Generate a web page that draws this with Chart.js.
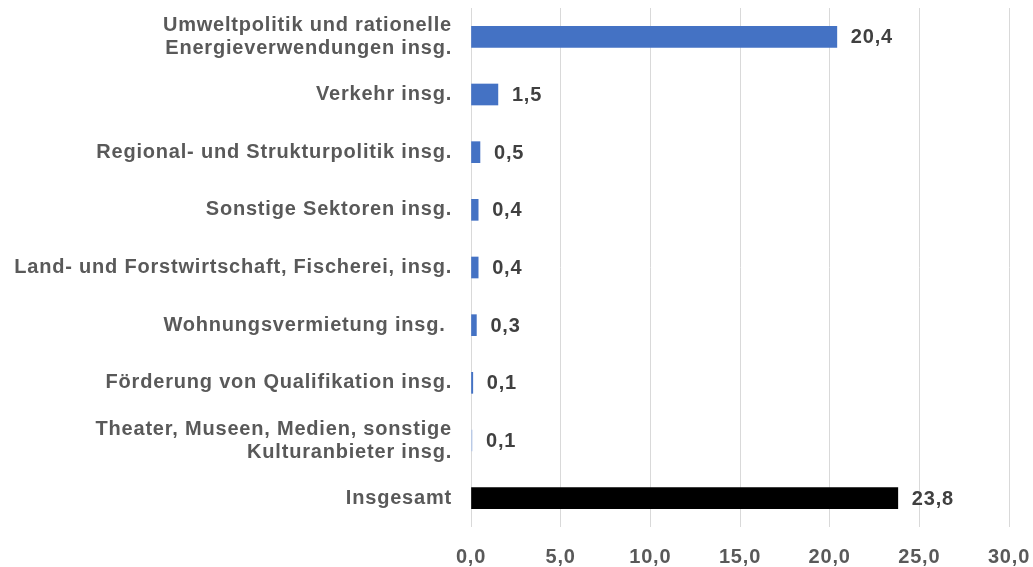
<!DOCTYPE html>
<html>
<head>
<meta charset="utf-8">
<script src="https://cdn.jsdelivr.net/npm/chart.js@4/dist/chart.umd.min.js"></script>
<style>
  html, body { margin: 0; padding: 0; background: #fff; }
  #wrap { width: 1033px; height: 567px; }
</style>
</head>
<body>
<div id="wrap"><canvas id="chart" width="1033" height="567"></canvas></div>
<script>
const categories = [
    ['Umweltpolitik und rationelle', 'Energieverwendungen insg.'],
    'Verkehr insg.',
    'Regional- und Strukturpolitik insg.',
    'Sonstige Sektoren insg.',
    'Land- und Forstwirtschaft, Fischerei, insg.',
    'Wohnungsvermietung insg. ',
    'Förderung von Qualifikation insg.',
    ['Theater, Museen, Medien, sonstige', 'Kulturanbieter insg.'],
    'Insgesamt'
];
const values = [20.4, 1.5, 0.5, 0.4, 0.4, 0.3, 0.1, 0.06, 23.8];
const barColors = ['#4472c4', '#4472c4', '#4472c4', '#4472c4', '#4472c4', '#4472c4', '#4472c4', '#b4c7e7', '#000000'];
const xTicks = [0, 5, 10, 15, 20, 25, 30];

const FONT = '"Liberation Sans", Arial, sans-serif';
const fmt = v => (Math.round(v * 10) / 10).toFixed(1).replace('.', ',');

// Excel-like text spacing
const spacing = {
    id: 'spacing',
    beforeLayout(chart) { chart.ctx.letterSpacing = '0.8px'; },
    beforeDraw(chart) { chart.ctx.letterSpacing = '0.8px'; }
};

const valueLabels = {
    id: 'valueLabels',
    afterDatasetsDraw(chart) {
        const ctx = chart.ctx;
        const meta = chart.getDatasetMeta(0);
        ctx.save();
        ctx.font = 'bold 20px ' + FONT;
        ctx.fillStyle = '#404040';
        ctx.textAlign = 'left';
        ctx.textBaseline = 'middle';
        meta.data.forEach((bar, i) => {
            ctx.fillText(fmt(values[i]), bar.x + 14, bar.y + 1);
        });
        ctx.restore();
    }
};

new Chart(document.getElementById('chart'), {
    type: 'bar',
    data: {
        labels: categories,
        datasets: [{
            data: values,
            backgroundColor: barColors,
            barThickness: 21
        }]
    },
    options: {
        indexAxis: 'y',
        responsive: false,
        animation: false,
        layout: { autoPadding: false, padding: { top: 8, right: 24, left: 0, bottom: 0 } },
        plugins: {
            legend: { display: false },
            tooltip: { enabled: false }
        },
        scales: {
            x: {
                min: 0,
                max: 30,
                afterBuildTicks: scale => { scale.ticks = xTicks.map(v => ({ value: v })); },
                afterFit: scale => {
                    scale.height = 40;
                    scale.paddingLeft = 0;
                    scale.paddingRight = 0;
                },
                border: { display: false },
                grid: { color: '#d9d9d9', lineWidth: 1, drawTicks: false },
                ticks: {
                    padding: 18,
                    color: '#595959',
                    font: { family: FONT, size: 20, weight: 'bold' },
                    callback: v => fmt(v)
                }
            },
            y: {
                afterFit: scale => {
                    scale.width = 471;
                    scale.paddingTop = 0;
                    scale.paddingBottom = 0;
                },
                border: { display: false },
                grid: { display: false, drawTicks: false },
                ticks: {
                    padding: 19,
                    color: '#595959',
                    font: { family: FONT, size: 20, weight: 'bold', lineHeight: 1.15 }
                }
            }
        }
    },
    plugins: [spacing, valueLabels]
});
</script>
</body>
</html>
